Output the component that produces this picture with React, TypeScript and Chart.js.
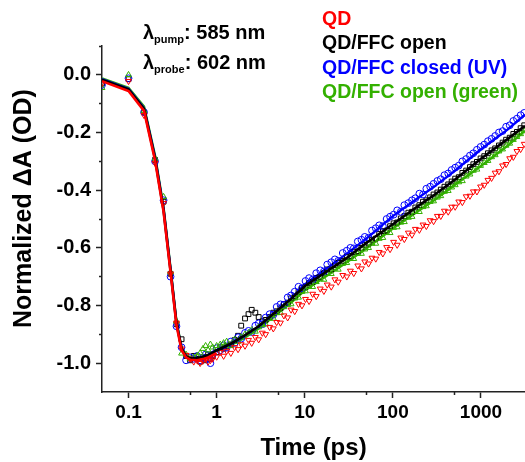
import React, { useEffect, useRef } from 'react';
import { Chart, registerables } from 'chart.js';

Chart.register(...registerables);

const FONT = "'Liberation Sans', Arial, Helvetica, sans-serif";

// ---- data ----
const markerTimes = [
  0.05, 0.1, 0.15, 0.2, 0.25, 0.3, 0.35, 0.4, 0.45, 0.5, 0.55, 0.6, 0.65, 0.7, 0.75, 0.8, 0.85, 0.9,
  1.0, 1.1, 1.2, 1.3, 1.45, 1.6, 1.75, 1.9, 2.1, 2.3, 2.5, 2.75, 3.0, 3.3, 3.6, 4.0, 4.4, 4.8, 5.3, 5.8,
  6.4, 7.0, 7.7, 8.5, 9.3, 10.2, 11.2, 12.3, 13.5, 15, 16.5, 18, 20, 22, 24, 27, 30, 33, 36, 40, 44, 48,
  53, 58, 64, 70, 77, 85, 93, 102, 112, 123, 135, 150, 165, 180, 200, 220, 240, 265, 290, 320, 350, 385,
  425, 465, 510, 560, 615, 680, 750, 820, 900, 990, 1090, 1200, 1320, 1450, 1600, 1760, 1930, 2120, 2330,
  2560, 2820, 3100,
];

const qdValues = [
  -0.028, -0.022, -0.14, -0.306, -0.445, -0.69, -0.86, -0.95, -0.972, -0.985, -0.995, -0.99, -1.0, -0.992, -0.985, -0.995, -0.99, -0.985,
  -0.978, -0.962, -0.975, -0.958, -0.965, -0.945, -0.952, -0.935, -0.94, -0.92,
  -0.93, -0.91, -0.918, -0.895, -0.9, -0.875, -0.88, -0.858, -0.86, -0.835,
  -0.842, -0.815, -0.82, -0.795, -0.8, -0.778, -0.785, -0.76, -0.768, -0.742,
  -0.75, -0.728, -0.735, -0.71, -0.718, -0.695, -0.7, -0.68, -0.688, -0.662,
  -0.672, -0.648, -0.655, -0.635, -0.638, -0.615, -0.62, -0.598, -0.605, -0.58,
  -0.59, -0.565, -0.57, -0.548, -0.555, -0.535, -0.538, -0.52, -0.525, -0.505,
  -0.508, -0.49, -0.49, -0.472, -0.475, -0.458, -0.458, -0.44, -0.442, -0.422,
  -0.42, -0.405, -0.405, -0.388, -0.382, -0.365, -0.358, -0.34, -0.335, -0.315,
  -0.31, -0.29, -0.285, -0.265, -0.258, -0.24,
];

const openValues = [
  -0.03, -0.015, -0.13, -0.295, -0.44, -0.69, -0.865, -0.917, -0.975, -0.99, -0.975, -0.985, -0.995, -0.98, -0.99, -0.97, -0.985, -0.975,
  -0.962, -0.945, -0.95, -0.94, -0.935, -0.92, -0.905, -0.87, -0.845, -0.83,
  -0.815, -0.825, -0.84, -0.855, -0.85, -0.84, -0.825, -0.82, -0.81, -0.795,
  -0.79, -0.775, -0.768, -0.752, -0.74, -0.735, -0.722, -0.718, -0.705, -0.7,
  -0.688, -0.675, -0.675, -0.66, -0.652, -0.645, -0.632, -0.628, -0.615, -0.612,
  -0.6, -0.59, -0.585, -0.572, -0.568, -0.552, -0.542, -0.54, -0.525, -0.515,
  -0.512, -0.498, -0.49, -0.478, -0.475, -0.46, -0.452, -0.44, -0.435, -0.425,
  -0.415, -0.408, -0.398, -0.388, -0.38, -0.37, -0.36, -0.355, -0.34, -0.332,
  -0.32, -0.31, -0.302, -0.29, -0.282, -0.272, -0.262, -0.255, -0.245, -0.235,
  -0.225, -0.218, -0.205, -0.198, -0.185, -0.175,
];

const closedValues = [
  -0.035, -0.012, -0.13, -0.3, -0.435, -0.7, -0.872, -0.945, -0.99, -0.98, -0.985, -0.975, -0.99, -0.98, -0.97, -0.985, -1.0, -0.97,
  -0.948, -0.955, -0.938, -0.946, -0.925, -0.93, -0.91, -0.915, -0.895, -0.888,
  -0.892, -0.87, -0.862, -0.865, -0.842, -0.83, -0.832, -0.805, -0.796, -0.798,
  -0.772, -0.765, -0.752, -0.735, -0.74, -0.715, -0.705, -0.71, -0.688, -0.678,
  -0.682, -0.658, -0.65, -0.64, -0.645, -0.618, -0.61, -0.6, -0.602, -0.578,
  -0.572, -0.562, -0.565, -0.54, -0.532, -0.522, -0.525, -0.5, -0.492, -0.485,
  -0.47, -0.475, -0.452, -0.445, -0.435, -0.428, -0.412, -0.415, -0.395, -0.388,
  -0.378, -0.368, -0.362, -0.348, -0.342, -0.33, -0.322, -0.315, -0.3, -0.292,
  -0.28, -0.272, -0.26, -0.25, -0.242, -0.23, -0.222, -0.212, -0.2, -0.195,
  -0.18, -0.175, -0.16, -0.152, -0.14, -0.132,
];

const greenValues = [
  -0.045, 0.0, -0.125, -0.29, -0.423, -0.685, -0.855, -0.966, -0.97, -0.985, -0.98, -0.975, -0.965, -0.95, -0.94, -0.955, -0.935, -0.945,
  -0.94, -0.935, -0.93, -0.925, -0.94, -0.918, -0.925, -0.91, -0.9, -0.895,
  -0.885, -0.89, -0.875, -0.868, -0.865, -0.845, -0.845, -0.826, -0.825, -0.805,
  -0.798, -0.795, -0.775, -0.772, -0.752, -0.75, -0.735, -0.735, -0.718, -0.708,
  -0.71, -0.69, -0.69, -0.672, -0.675, -0.655, -0.652, -0.638, -0.638, -0.62,
  -0.62, -0.605, -0.6, -0.585, -0.585, -0.568, -0.565, -0.548, -0.548, -0.53,
  -0.528, -0.512, -0.51, -0.495, -0.492, -0.475, -0.475, -0.458, -0.455, -0.44,
  -0.438, -0.425, -0.42, -0.405, -0.402, -0.39, -0.382, -0.372, -0.368, -0.352,
  -0.345, -0.332, -0.328, -0.315, -0.305, -0.298, -0.285, -0.278, -0.265, -0.258,
  -0.245, -0.238, -0.225, -0.215, -0.205, -0.195,
];

// fitted curves
const fitTimes = [0.05, 0.1, 0.15, 0.2, 0.25, 0.3, 0.35, 0.4, 0.45, 0.5, 0.6, 0.7, 0.8, 1, 1.5, 2, 3, 5, 7, 10, 20, 30, 50, 100, 200, 300, 500, 1000, 2000, 3162];
const qdFitTimes = [0.05, 0.1, 0.15, 0.2, 0.25, 0.3, 0.35, 0.4, 0.45, 0.5, 0.6, 0.7, 0.8, 1.0];
const qdFit = [-0.022, -0.056, -0.125, -0.297, -0.475, -0.685, -0.868, -0.955, -0.98, -0.988, -0.99, -0.986, -0.98, -0.965];
const openFit = [-0.017, -0.05, -0.118, -0.29, -0.47, -0.68, -0.862, -0.95, -0.977, -0.983, -0.983, -0.978, -0.972, -0.956, -0.93, -0.907, -0.872, -0.815, -0.777, -0.733, -0.671, -0.635, -0.583, -0.518, -0.452, -0.415, -0.365, -0.291, -0.223, -0.177];
const closedFit = [-0.015, -0.048, -0.115, -0.285, -0.465, -0.675, -0.86, -0.948, -0.975, -0.982, -0.982, -0.978, -0.972, -0.955, -0.932, -0.91, -0.875, -0.815, -0.775, -0.727, -0.66, -0.62, -0.568, -0.49, -0.424, -0.386, -0.334, -0.258, -0.19, -0.138];
const greenFit = [-0.012, -0.045, -0.11, -0.28, -0.46, -0.67, -0.855, -0.945, -0.972, -0.982, -0.982, -0.978, -0.972, -0.957, -0.935, -0.915, -0.88, -0.825, -0.79, -0.748, -0.686, -0.65, -0.602, -0.533, -0.47, -0.433, -0.383, -0.316, -0.246, -0.194];

const seriesNames = ['QD', 'QD/FFC open', 'QD/FFC closed (UV)', 'QD/FFC open (green)'];
const seriesColors = ['#ff0000', '#000000', '#0000ff', '#33b000'];

const xTickValues = [0.1, 1, 10, 100, 1000];
const xTickLabels = ['0.1', '1', '10', '100', '1000'];
const xMinorTicks = [0.5, 5, 50, 500];
const yTickValues = [-1.0, -0.8, -0.6, -0.4, -0.2, 0.0];
const yTickLabels = ['-1.0', '-0.8', '-0.6', '-0.4', '-0.2', '0.0'];
const yMinorTicks = [-0.9, -0.7, -0.5, -0.3, -0.1, 0.1];

const lambdaLines = [
  { sub: 'pump', value: ': 585 nm' },
  { sub: 'probe', value: ': 602 nm' },
];

const pts = (xs: number[], ys: number[]) => xs.map((x, i) => ({ x, y: ys[i] }));

const annotationPlugin = {
  id: 'annotations',
  afterDraw(chart: any) {
    const ctx = chart.ctx as CanvasRenderingContext2D;
    ctx.save();
    ctx.textAlign = 'left';
    ctx.textBaseline = 'alphabetic';
    // legend (text only)
    ctx.font = `bold 19.5px ${FONT}`;
    seriesNames.forEach((name, i) => {
      ctx.fillStyle = seriesColors[i];
      ctx.fillText(name, 322, 24.5 + i * 24.6);
    });
    // lambda labels
    ctx.fillStyle = '#000';
    lambdaLines.forEach((l, i) => {
      const y = 39 + i * 30;
      let x = 143;
      ctx.font = `bold 20px ${FONT}`;
      ctx.fillText('\u03bb', x, y);
      x += ctx.measureText('\u03bb').width;
      ctx.font = `bold 11px ${FONT}`;
      ctx.fillText(l.sub, x, y + 4);
      x += ctx.measureText(l.sub).width;
      ctx.font = `bold 20px ${FONT}`;
      ctx.fillText(l.value, x, y);
    });
    ctx.restore();
  },
};

const axisColor = '#222';

const zeroPadH = (s: any) => {
  s.paddingLeft = 0;
  s.paddingRight = 0;
};
const zeroPadV = (s: any) => {
  s.paddingTop = 0;
  s.paddingBottom = 0;
};

export default function App() {
  const ref = useRef<HTMLCanvasElement>(null);
  useEffect(() => {
    const markerDs = (label: string, ys: number[], color: string, style: any, rotation: number, order: number) => ({
      label,
      data: pts(markerTimes, ys),
      showLine: false,
      pointStyle: style,
      rotation,
      pointRadius: 3.4,
      pointBorderWidth: 1,
      borderColor: color,
      pointBorderColor: color,
      backgroundColor: 'rgba(0,0,0,0)',
      pointBackgroundColor: 'rgba(0,0,0,0)',
      order,
    });
    const fitDs = (label: string, xs: number[], ys: number[], color: string, width: number, order: number) => ({
      label,
      data: pts(xs, ys),
      showLine: true,
      pointRadius: 0,
      borderWidth: width,
      borderColor: color,
      backgroundColor: color,
      tension: 0,
      order,
    });
    const chart = new Chart(ref.current as HTMLCanvasElement, {
      type: 'scatter',
      data: {
        datasets: [
          fitDs(seriesNames[3] + ' fit', fitTimes, greenFit, seriesColors[3], 2.4, 20),
          fitDs(seriesNames[2] + ' fit', fitTimes, closedFit, seriesColors[2], 2.4, 19),
          markerDs(seriesNames[1], openValues, seriesColors[1], 'rect', 0, 10),
          markerDs(seriesNames[2], closedValues, seriesColors[2], 'circle', 0, 9),
          markerDs(seriesNames[3], greenValues, seriesColors[3], 'triangle', 0, 8),
          markerDs(seriesNames[0], qdValues, seriesColors[0], 'triangle', 180, 7),
          fitDs(seriesNames[1] + ' fit', fitTimes, openFit, seriesColors[1], 2.6, 2),
          fitDs(seriesNames[0] + ' fit', qdFitTimes, qdFit, seriesColors[0], 2.6, 1),
        ] as any,
      },
      options: {
        responsive: false,
        animation: false,
        devicePixelRatio: 1,
        events: [],
        layout: { autoPadding: false, padding: { top: 46, right: 0, left: 0, bottom: 0 } },
        plugins: { legend: { display: false }, tooltip: { enabled: false }, title: { display: false } },
        scales: {
          x: {
            type: 'logarithmic',
            position: 'bottom',
            bounds: 'data',
            min: 0.05,
            max: 3162,
            weight: 1,
            afterBuildTicks: (s: any) => {
              s.ticks = xTickValues.map((v) => ({ value: v }));
            },
            afterFit: (s: any) => {
              s.height = 70;
              zeroPadH(s);
            },
            ticks: {
              autoSkip: false,
              maxRotation: 0,
              padding: 3,
              color: '#000',
              font: { family: FONT, size: 19, weight: 'bold' },
              callback: (v: any) => {
                const i = xTickValues.findIndex((t) => Math.abs(t - Number(v)) < 1e-9);
                return i >= 0 ? xTickLabels[i] : '';
              },
            },
            grid: { display: true, drawOnChartArea: false, drawTicks: true, tickLength: 6, tickColor: axisColor, tickWidth: 1.5 },
            border: { display: true, color: axisColor, width: 1.5 },
            title: {
              display: true,
              text: 'Time (ps)',
              color: '#000',
              font: { family: FONT, size: 24, weight: 'bold', lineHeight: 1 },
              padding: { top: 0, bottom: 2 },
            },
          },
          x2: {
            type: 'logarithmic',
            position: 'bottom',
            bounds: 'data',
            min: 0.05,
            max: 3162,
            weight: 0,
            afterBuildTicks: (s: any) => {
              s.ticks = xMinorTicks.map((v) => ({ value: v }));
            },
            afterFit: (s: any) => {
              s.height = 0;
              zeroPadH(s);
            },
            ticks: { display: false },
            grid: { display: true, drawOnChartArea: false, drawTicks: true, tickLength: 3, tickColor: axisColor, tickWidth: 1.5 },
            border: { display: false },
          },
          y: {
            type: 'linear',
            position: 'left',
            bounds: 'data',
            min: -1.1,
            max: 0.1,
            weight: 1,
            afterBuildTicks: (s: any) => {
              s.ticks = yTickValues.map((v) => ({ value: v }));
            },
            afterFit: (s: any) => {
              s.width = 102;
              zeroPadV(s);
            },
            ticks: {
              autoSkip: false,
              padding: 5,
              color: '#000',
              font: { family: FONT, size: 20, weight: 'bold' },
              callback: (v: any) => {
                const i = yTickValues.findIndex((t) => Math.abs(t - Number(v)) < 1e-9);
                return i >= 0 ? yTickLabels[i] : '';
              },
            },
            grid: { display: true, drawOnChartArea: false, drawTicks: true, tickLength: 6, tickColor: axisColor, tickWidth: 1.5 },
            border: { display: true, color: axisColor, width: 1.5 },
            title: {
              display: true,
              text: '   Normalized \u0394A (OD)',
              color: '#000',
              font: { family: FONT, size: 25, weight: 'bold', lineHeight: 1 },
              padding: { top: 12, bottom: 0 },
            },
          },
          y2: {
            type: 'linear',
            position: 'left',
            bounds: 'data',
            min: -1.1,
            max: 0.1,
            weight: 0,
            afterBuildTicks: (s: any) => {
              s.ticks = yMinorTicks.map((v) => ({ value: v }));
            },
            afterFit: (s: any) => {
              s.width = 0;
              zeroPadV(s);
            },
            ticks: { display: false },
            grid: { display: true, drawOnChartArea: false, drawTicks: true, tickLength: 3, tickColor: axisColor, tickWidth: 1.5 },
            border: { display: false },
          },
        },
      } as any,
      plugins: [annotationPlugin],
    });
    return () => chart.destroy();
  }, []);
  return (
    <div style={{ position: 'fixed', left: 0, top: 0, width: 525, height: 462, background: '#fff' }}>
      <canvas ref={ref} width={525} height={462} style={{ display: 'block', width: 525, height: 462 }} />
    </div>
  );
}
